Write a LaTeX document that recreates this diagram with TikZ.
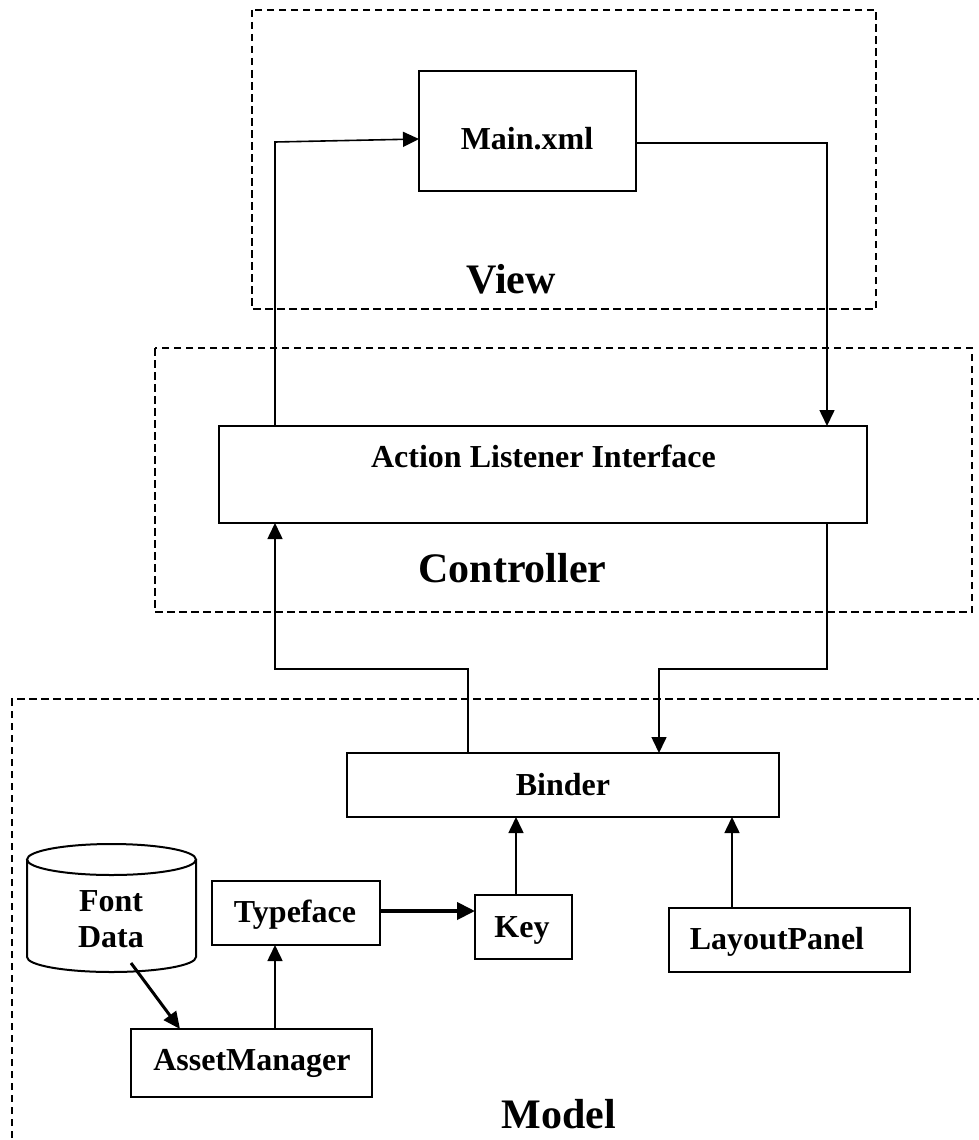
\documentclass[tikz,border=0pt]{standalone}
\usepackage{fontspec}
\setmainfont{Liberation Serif}
\usetikzlibrary{arrows.meta,calc}

\begin{document}
\begin{tikzpicture}[x=1pt,y=-1pt,
  box/.style={draw, line width=2pt, rectangle, inner sep=0pt, outer sep=0pt},
  txt/.style={font=\fontsize{32}{38}\selectfont\bfseries, inner sep=0pt, anchor=base},
  big/.style={font=\fontsize{42}{50}\selectfont\bfseries, inner sep=0pt, anchor=base},
  group/.style={line width=1.8pt, dash pattern=on 7.5pt off 4.5pt},
  link/.style={line width=1.6pt, -{Triangle[length=16pt,width=15pt]}},
  heavy/.style={line width=4pt, -{Triangle[length=18pt,width=17pt]}},
  feed/.style={line width=3pt, -{Triangle[length=17pt,width=15pt]}},
]
\useasboundingbox (0,0) rectangle (979,1140);

% layer frames
\draw[group] (252,10) rectangle (876,309);
\draw[group] (155,348) rectangle (972,612);
\begin{scope}
  \clip (0,0) rectangle (979,1140);
  \draw[group] (12,1150) -- (12,699) -- (990,699);
\end{scope}

% layer titles
\node[big] (viewT) at (511,293) {View};
\node[big] (ctrlT) at (512.5,582) {Controller};
\node[big] (modelT) at (559,1128) {Model};

% boxes
\node[box, minimum width=217, minimum height=120] (main) at (527.5,131) {};
\node[txt] (mainT) at (527,149) {Main.xml};

\node[box, minimum width=648, minimum height=97] (action) at (543,474.5) {};
\node[txt] (actionT) at (543.5,467) {Action Listener Interface};

\node[box, minimum width=432, minimum height=64] (binder) at (563,785) {};
\node[txt] (binderT) at (563,795) {Binder};

\node[box, minimum width=168, minimum height=64] (typeface) at (296,913) {};
\node[txt] (typefaceT) at (295,922) {Typeface};

\node[box, minimum width=97, minimum height=64] (key) at (523.5,927) {};
\node[txt] (keyT) at (522,937) {Key};

\node[box, minimum width=241, minimum height=64] (layout) at (789.5,940) {};
\node[txt] (layoutT) at (777,949) {LayoutPanel};

\node[box, minimum width=241, minimum height=68] (asset) at (251.5,1063) {};
\node[txt] (assetT) at (252,1070) {AssetManager};

% font data store (cylinder)
\node[inner sep=0pt, outer sep=0pt, minimum width=169, minimum height=128] (fontdata) at (111.5,908) {};
\draw[line width=2pt] (111.5,859.5) ellipse[x radius=84.5, y radius=15.5];
\draw[line width=2pt] (27,859.5) -- (27,957) arc[start angle=180, end angle=0, x radius=84.5, y radius=15] -- (196,859.5);
\node[txt] (fontT) at (111,911) {Font};
\node[txt] (dataT) at (111,947) {Data};

% view <-> controller
\coordinate (up1) at (275,142);
\coordinate (dn1) at (827,143);
\draw[link] (action.north -| up1) -- (up1) -- (main.west |- 0,139);
\draw[link] (main.east |- dn1) -- (dn1) -- (action.north -| dn1);

% controller <-> model
\coordinate (up2) at (468,669);
\coordinate (up3) at (275,669);
\coordinate (dn2) at (827,669);
\coordinate (dn3) at (659,669);
\draw[link] (binder.north -| up2) -- (up2) -- (up3) -- (action.south -| up3);
\draw[link] (action.south -| dn2) -- (dn2) -- (dn3) -- (binder.north -| dn3);

% model internals
\draw[link] (key.north -| 516,0) -- (binder.south -| 516,0);
\draw[link] (layout.north -| 732,0) -- (binder.south -| 732,0);
\draw[heavy] (typeface.east |- 0,911) -- (key.west |- 0,911);
\draw[link] (asset.north -| 275,0) -- (typeface.south -| 275,0);
\draw[feed] ($(fontdata.center)+(19.5,55)$) -- (asset.north -| 180,0);
\end{tikzpicture}
\end{document}
